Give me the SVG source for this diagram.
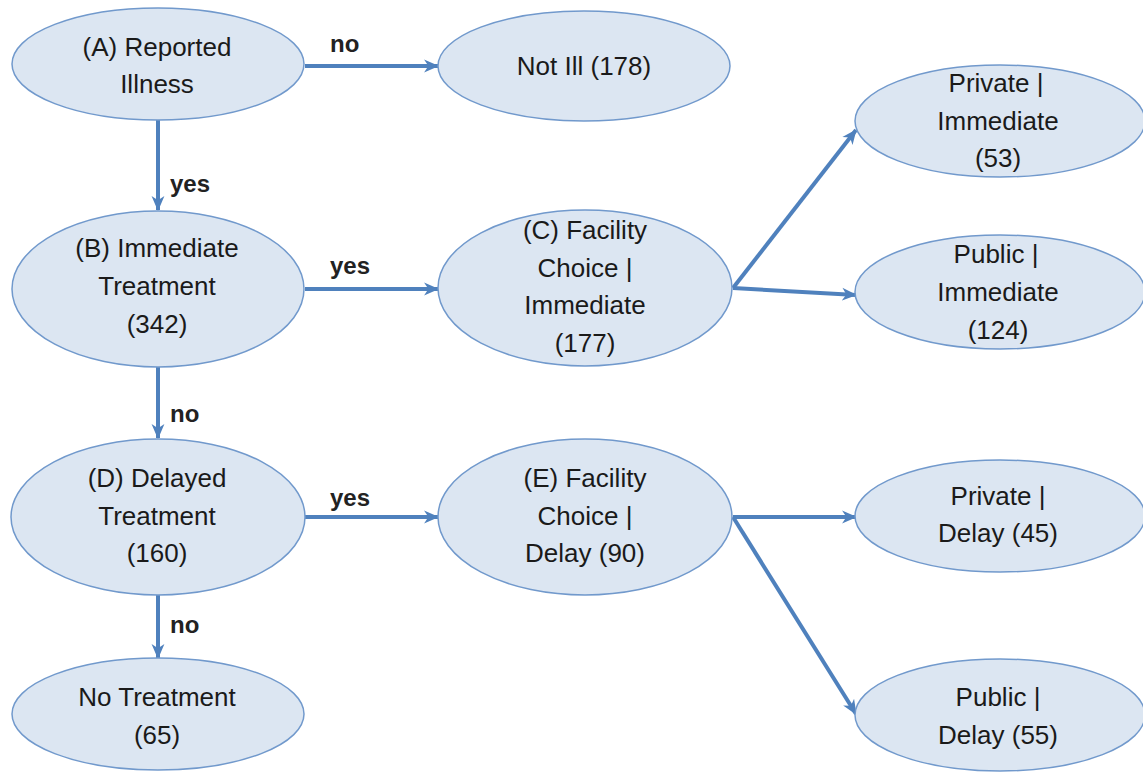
<svg xmlns="http://www.w3.org/2000/svg" width="1143" height="772" viewBox="0 0 1143 772">
<defs>
<marker id="ah" viewBox="0 0 14 14" refX="13" refY="7" markerWidth="15" markerHeight="15" markerUnits="userSpaceOnUse" orient="auto">
<path d="M0,1 L14,7 L0,13 L4,7 z" fill="#4f81bd"/>
</marker>
<style>
.n ellipse{fill:#dce6f2;stroke:#7199cc;stroke-width:1.5}
.n text{font-family:"Liberation Sans",Arial,sans-serif;font-size:26px;fill:#1a1a1a;text-anchor:middle}
.c line{stroke:#4f81bd;stroke-width:4;marker-end:url(#ah)}
.l{font-family:"Liberation Sans",Arial,sans-serif;font-size:24px;font-weight:bold;fill:#222}
</style>
</defs>
<rect width="1143" height="772" fill="#fff"/>
<g id="connectors" class="c">
<line x1="305" y1="66" x2="438" y2="66"/>
<line x1="158" y1="120" x2="158" y2="210"/>
<line x1="305" y1="289" x2="438" y2="289"/>
<line x1="158" y1="367" x2="158" y2="438"/>
<line x1="305" y1="517" x2="438" y2="517"/>
<line x1="158" y1="595" x2="158" y2="658"/>
<line x1="733" y1="288" x2="856" y2="130"/>
<line x1="733" y1="288" x2="856" y2="295"/>
<line x1="733" y1="517" x2="856" y2="517"/>
<line x1="733" y1="517" x2="856" y2="714"/>
</g>
<g id="labels">
<text class="l" x="330" y="52">no</text>
<text class="l" x="170" y="192">yes</text>
<text class="l" x="330" y="274">yes</text>
<text class="l" x="170" y="422">no</text>
<text class="l" x="330" y="506">yes</text>
<text class="l" x="170" y="633">no</text>
</g>
<g id="nodeA" class="n"><ellipse cx="158" cy="64" rx="146" ry="56"/><text x="157" y="56">(A) Reported</text><text x="157" y="93">Illness</text></g>
<g id="notIll" class="n"><ellipse cx="584" cy="66" rx="146" ry="55"/><text x="584" y="75">Not Ill (178)</text></g>
<g id="nodeB" class="n"><ellipse cx="158" cy="289" rx="146" ry="78"/><text x="157" y="257">(B) Immediate</text><text x="157" y="295">Treatment</text><text x="157" y="333">(342)</text></g>
<g id="nodeC" class="n"><ellipse cx="585" cy="288" rx="147" ry="78"/><text x="585" y="239">(C) Facility</text><text x="585" y="277">Choice |</text><text x="585" y="314">Immediate</text><text x="585" y="352">(177)</text></g>
<g id="privImm" class="n"><ellipse cx="1000" cy="121" rx="145" ry="56"/><text x="996" y="92">Private |</text><text x="998" y="130">Immediate</text><text x="998" y="167">(53)</text></g>
<g id="pubImm" class="n"><ellipse cx="1000" cy="292" rx="145" ry="57"/><text x="996" y="263">Public |</text><text x="998" y="301">Immediate</text><text x="998" y="339">(124)</text></g>
<g id="nodeD" class="n"><ellipse cx="158" cy="517" rx="147" ry="78"/><text x="157" y="487">(D) Delayed</text><text x="157" y="525">Treatment</text><text x="157" y="562">(160)</text></g>
<g id="nodeE" class="n"><ellipse cx="585" cy="517" rx="147" ry="78"/><text x="585" y="487">(E) Facility</text><text x="585" y="525">Choice |</text><text x="585" y="562">Delay (90)</text></g>
<g id="privDelay" class="n"><ellipse cx="1000" cy="516" rx="145" ry="56"/><text x="998" y="505">Private |</text><text x="998" y="542">Delay (45)</text></g>
<g id="noTreat" class="n"><ellipse cx="158" cy="714" rx="146" ry="56"/><text x="157" y="706">No Treatment</text><text x="157" y="744">(65)</text></g>
<g id="pubDelay" class="n"><ellipse cx="1000" cy="715" rx="145" ry="56"/><text x="998" y="706">Public |</text><text x="998" y="744">Delay (55)</text></g>
</svg>
